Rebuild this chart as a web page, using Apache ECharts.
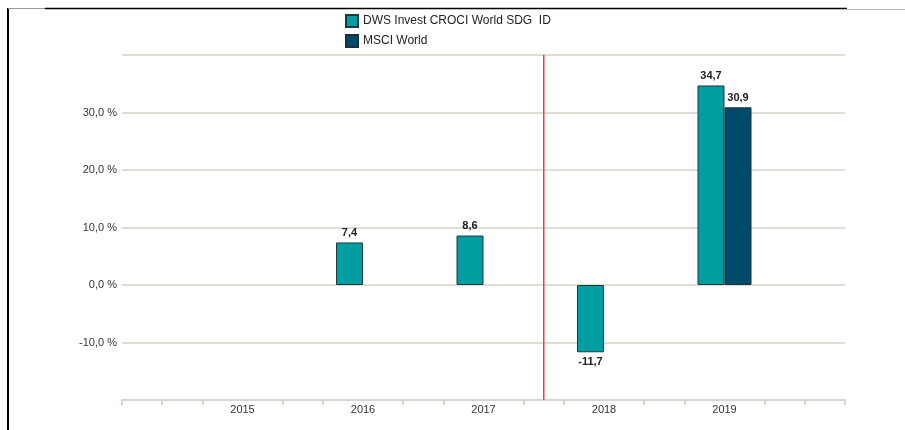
<!DOCTYPE html>
<html>
<head>
<meta charset="utf-8">
<script src="https://cdn.jsdelivr.net/npm/echarts@6/dist/echarts.min.js"></script>
<style>
html,body{margin:0;padding:0;background:#fff;}
#chart{width:905px;height:430px;}
</style>
</head>
<body>
<div id="chart"></div>
<script>
// ---- data ----
const years = ['2015', '2016', '2017', '2018', '2019'];
const fundName = 'DWS Invest CROCI World SDG  ID';
const benchName = 'MSCI World';
const fundValues = [null, 7.4, 8.6, -11.7, 34.7];
const benchValues = [null, null, null, null, 30.9];
const yTicks = [-20, -10, 0, 10, 20, 30, 40];
const strategyChangeBetween = ['2017', '2018'];

// axis slots: each year gets a slot, 3 sub-ticks between years
const SUB = 3;
const slotCount = (years.length + 1) * SUB + 1; // 19
const yearIndex = y => (years.indexOf(y) + 1) * SUB;
const cats = [];
for (let i = 0; i < slotCount; i++) cats.push('');
years.forEach(y => { cats[yearIndex(y)] = y; });
const toSlots = vals => {
  const arr = cats.map(() => null);
  years.forEach((y, i) => {
    if (vals[i] !== null) {
      arr[yearIndex(y)] = {
        value: vals[i],
        label: { position: vals[i] < 0 ? 'bottom' : 'top' }
      };
    }
  });
  return arr;
};
const fmt = v => v.toFixed(1).replace('.', ',');
const yMin = yTicks[0], yMax = yTicks[yTicks.length - 1];
const markerX = (yearIndex(strategyChangeBetween[0]) + yearIndex(strategyChangeBetween[1])) / 2;

const FONT = 'Liberation Sans, Arial, sans-serif';
const chart = echarts.init(document.getElementById('chart'), null, { renderer: 'canvas' });
const labelCommon = {
  show: true,
  formatter: p => fmt(p.value),
  fontFamily: FONT, fontSize: 11, fontWeight: 'bold', color: '#222', distance: 4
};
chart.setOption({
  animation: false,
  backgroundColor: '#fff',
  textStyle: { fontFamily: FONT },
  legend: {
    data: [fundName, benchName],
    orient: 'vertical',
    left: 340, top: 9,
    itemWidth: 12, itemHeight: 12, itemGap: 6,
    textStyle: { fontFamily: FONT, fontSize: 12, color: '#222' },
    icon: 'rect'
  },
  grid: { left: 122, right: 60, top: 55, bottom: 30, containLabel: false },
  xAxis: [{
    type: 'category',
    data: cats,
    boundaryGap: false,
    axisLine: { show: true, onZero: false, lineStyle: { color: '#d9d5cd', width: 2 } },
    axisTick: {
      show: true, length: 5,
      interval: (i) => cats[i] === '',
      lineStyle: { color: '#d9d5cd', width: 2 }
    },
    axisLabel: { interval: 0, fontFamily: FONT, fontSize: 11, color: '#333', margin: 4 },
    splitLine: { show: false }
  }, {
    type: 'value', min: 0, max: slotCount - 1, show: false
  }],
  yAxis: {
    type: 'value', min: yMin, max: yMax, interval: 10,
    axisLine: { show: false }, axisTick: { show: false },
    axisLabel: {
      fontFamily: FONT, fontSize: 11, color: '#333', margin: 5,
      formatter: v => (v === yMin || v === yMax) ? '' : fmt(v) + ' %'
    },
    splitLine: { lineStyle: { color: '#e0ddd6', width: 2 } }
  },
  series: [{
    name: fundName, type: 'bar', xAxisIndex: 0,
    data: toSlots(fundValues),
    barWidth: 27, barGap: '0%',
    itemStyle: { color: '#009ea0', borderColor: '#1d3b3f', borderWidth: 1 },
    label: labelCommon
  }, {
    name: benchName, type: 'bar', xAxisIndex: 0,
    data: toSlots(benchValues),
    barWidth: 27, barGap: '0%',
    itemStyle: { color: '#004a6c', borderColor: '#1d2f3a', borderWidth: 1 },
    label: labelCommon
  }, {
    name: 'marker', type: 'line', xAxisIndex: 1, silent: true,
    data: [[markerX, yMin], [markerX, yMax]],
    showSymbol: false, symbol: 'none',
    lineStyle: { color: '#f03c3c', width: 1.5 }, z: 1
  }],
  graphic: [
    { type: 'line', shape: { x1: 8, y1: 8, x2: 8, y2: 430 }, style: { stroke: '#000', lineWidth: 2 } },
    { type: 'line', shape: { x1: 45, y1: 8.5, x2: 847, y2: 8.5 }, style: { stroke: '#000', lineWidth: 1.5 } },
    { type: 'line', shape: { x1: 8, y1: 8.5, x2: 45, y2: 8.5 }, style: { stroke: '#999', lineWidth: 1 } },
    { type: 'line', shape: { x1: 847, y1: 9.5, x2: 905, y2: 9.5 }, style: { stroke: '#bbb', lineWidth: 1 } }
  ]
});
</script>
</body>
</html>
